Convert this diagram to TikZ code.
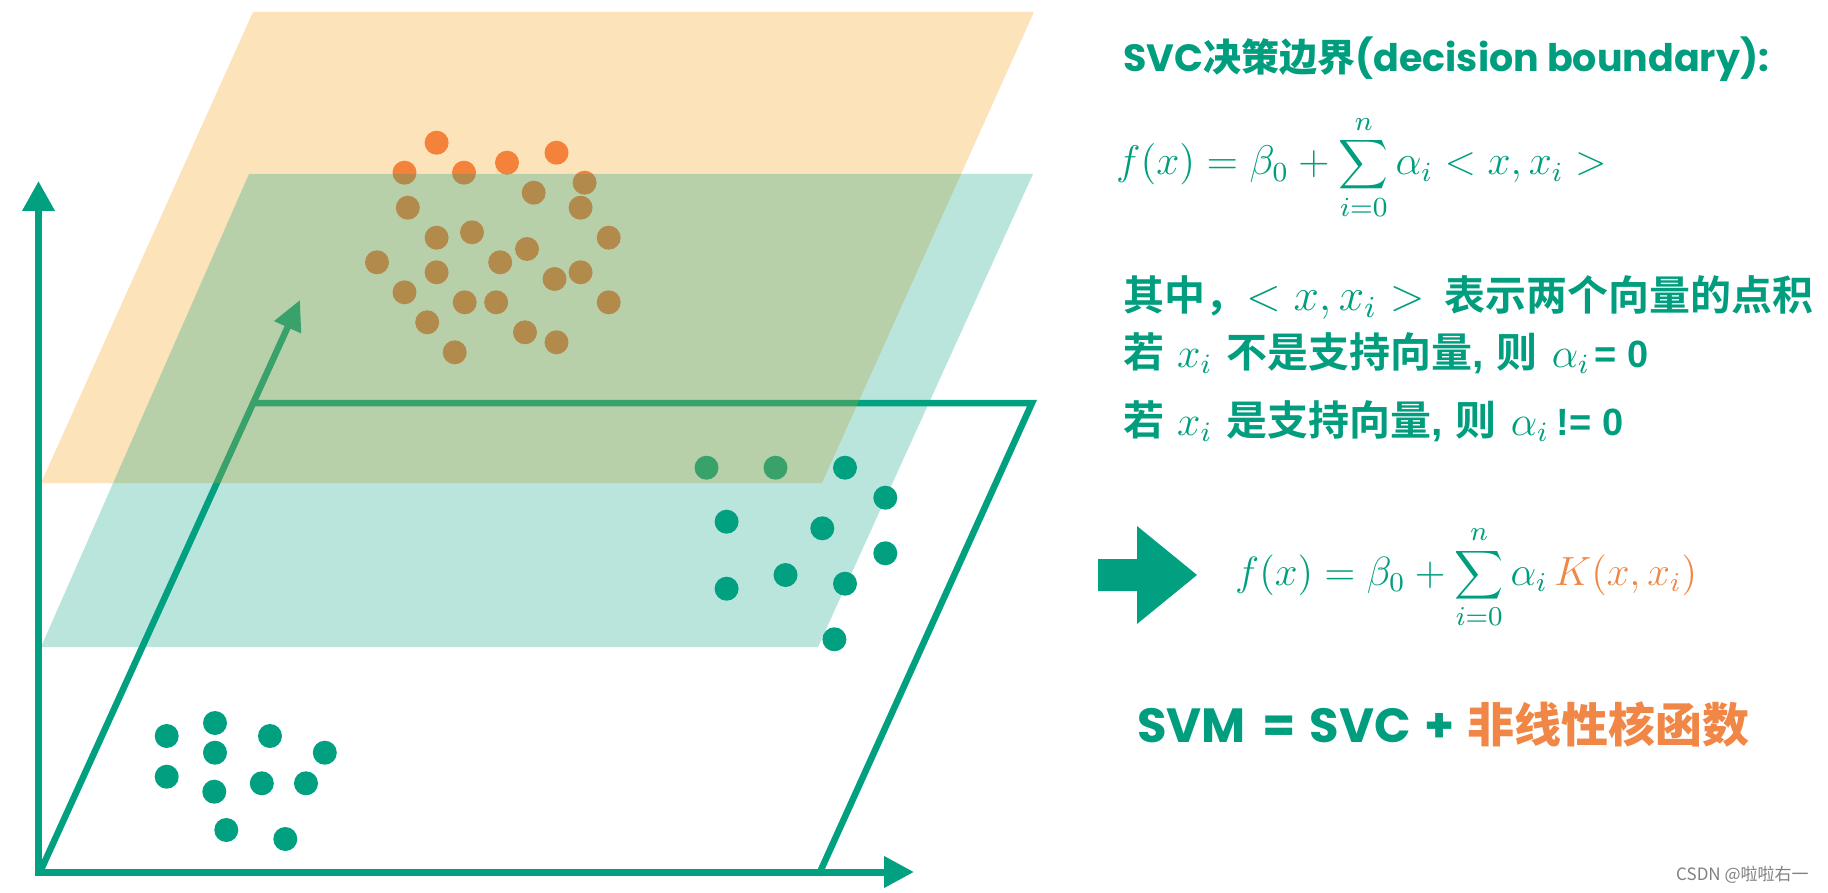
\documentclass[tikz,border=0pt]{standalone}
\usepackage{fontspec}
\usetikzlibrary{arrows.meta}
\newfontfamily\cjk{Noto Sans CJK SC Bold}
\newfontfamily\cjkr{Noto Sans CJK SC}
\newfontfamily\pop{Poppins}
\newfontfamily\ari{Liberation Sans}
\newcommand{\mymath}[2]{\scalebox{#1}{\fontsize{12}{14}\selectfont$#2$}}
\definecolor{teal1}{RGB}{0,160,128}
\definecolor{tealtxt}{RGB}{0,158,126}
\definecolor{orgdot}{RGB}{245,130,58}
\definecolor{orgtxt}{RGB}{240,135,70}
\definecolor{orgplane}{RGB}{247,168,40}
\tikzset{
  gdot/.style={fill=teal1},
  odot/.style={fill=orgdot},
  axis/.style={draw=teal1, line width=7pt},
  frame/.style={draw=teal1, line width=6.5pt, line join=miter},
  txt/.style={anchor=base west, inner sep=0pt, text=tealtxt},
}
\begin{document}
\begin{tikzpicture}[x=1pt,y=-1pt]
\useasboundingbox (0,0) rectangle (1828,893);
% axes
\draw[axis, -{Triangle[length=30pt,width=31pt]}] (38.5,875.5) -- (38.5,181);
\draw[axis, -{Triangle[length=30pt,width=30pt]}] (35,872) -- (914,872);
% bottom plane outline
\draw[frame] (253,403) -- (1032,403) -- (820,872);
\draw[frame, -{Triangle[length=30pt,width=28pt]}] (40,872) -- (300,300);
% green dots
\foreach \x/\y in {706.5/467.7, 775.5/467.7, 845/467.7, 885.3/497.7, 726.6/521.7,
  822.3/528.3, 885.3/553.3, 785.5/575, 726.6/588.7, 845/583.7, 834.4/639.3,
  166.7/736, 215/723, 270/736, 215/752.7, 324.8/752.7, 166.7/776.7, 214.3/791.7,
  261.8/783.3, 306/783.3, 226.3/830, 285.3/839}
  \fill[gdot] (\x,\y) circle[radius=12pt];
% orange plane
\fill[orgplane, opacity=0.32] (41,483) -- (822,483) -- (1034,12) -- (253,12) -- cycle;
% orange dots
\foreach \x/\y in {436.6/142.7, 404.5/172.7, 464/172.7, 507/162.7, 556.5/152.7,
  584.6/182.7, 533.7/192.7, 407.8/207.7, 580.6/207.7, 436.6/237.7, 472/232.3,
  608.7/237.7, 527/249, 377/262.3, 436.6/272.3, 500.2/262.3, 554.5/279,
  580.6/272.3, 404.5/292.3, 464.7/302.3, 496.2/302.3, 608.7/302.3, 427.2/322.3,
  525/332.3, 556.5/342.3, 454.7/352.3}
  \fill[odot] (\x,\y) circle[radius=12pt];
% teal plane
\fill[teal1, opacity=0.27] (41,647) -- (818,647) -- (1033,174) -- (249,174) -- cycle;
% texts
\node[txt] (title) at (1123,72) {\fontsize{38}{44}\selectfont\pop\bfseries SVC{\cjk 决策边界}(decision boundary):};
\node[txt] (f1) at (1116,175) {\mymath{3.45}{\displaystyle f(x)=\beta_0+\sum_{i=0}^{n}\alpha_i<x,x_i>}};
\node[txt] (l1) at (1123,311) {\fontsize{41}{46}\selectfont{\cjk 其中，}\mymath{3.8}{<x,x_i>}\hspace{20pt}{\cjk 表示两个向量的点积}};
\node[txt] (l2) at (1123,367) {\fontsize{41}{44}\selectfont{\cjk 若}\hspace{13pt}\mymath{3.5}{x_i}\hspace{14pt}{\cjk 不是支持向量}{\ari\bfseries ,}\hspace{13pt}{\cjk 则}\hspace{14pt}\mymath{3.5}{\alpha_i}\hspace{5pt}{\fontsize{38}{44}\selectfont\ari\bfseries = 0}};
\node[txt] (l3) at (1123,435) {\fontsize{41}{44}\selectfont{\cjk 若}\hspace{13pt}\mymath{3.5}{x_i}\hspace{14pt}{\cjk 是支持向量}{\ari\bfseries ,}\hspace{13pt}{\cjk 则}\hspace{14pt}\mymath{3.5}{\alpha_i}\hspace{8pt}{\fontsize{38}{44}\selectfont\ari\bfseries != 0}};
% block arrow
\fill[teal1] (1098,559) -- (1137,559) -- (1137,526) -- (1197,575) -- (1137,624) -- (1137,591) -- (1098,591) -- cycle;
\node[txt] (f2) at (1235,585) {\mymath{3.4}{\displaystyle f(x)=\beta_0+\sum_{i=0}^{n}\alpha_i\,\textcolor{orgtxt}{K(x,x_i)}}};
\node[txt] (svm) at (1137,742) {\fontsize{48}{54}\selectfont\pop\bfseries SVM\hspace{6pt} = \hspace{4pt}SVC\hspace{4pt} + \hspace{2pt}{\fontsize{47}{54}\selectfont\cjk\color{orgtxt}非线性核函数}};
\node[anchor=base west, inner sep=0pt, text=gray] (wm) at (1676,880) {\fontsize{17}{19}\selectfont\cjkr CSDN @啦啦右一};
\end{tikzpicture}
\end{document}
